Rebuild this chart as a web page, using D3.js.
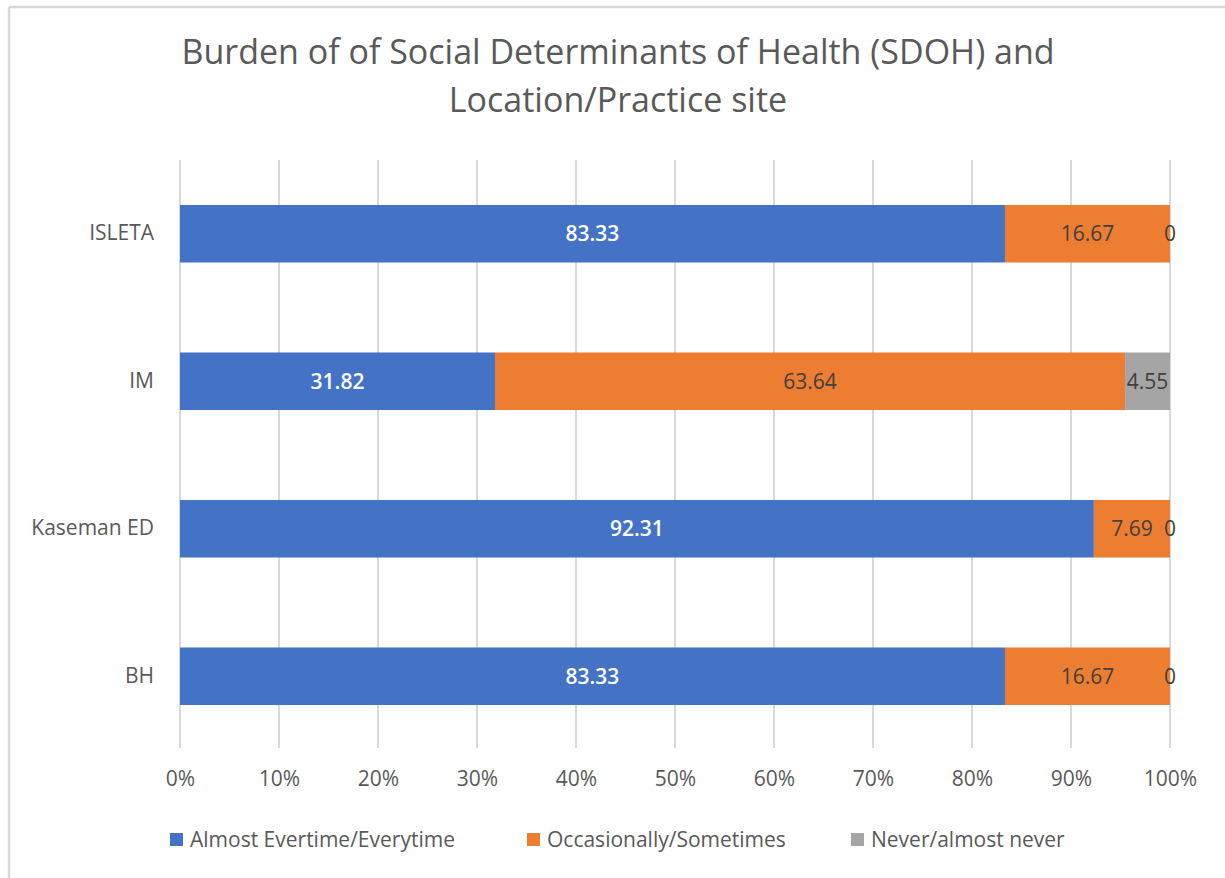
<!DOCTYPE html>
<html>
<head>
<meta charset="utf-8">
<script src="https://cdn.jsdelivr.net/npm/d3@7"></script>
<style>
  html, body { margin: 0; padding: 0; background: #fff; }
  svg text { font-family: "Open Sans", "Lato", sans-serif; }
</style>
</head>
<body>
<svg id="chart" width="1225" height="878"></svg>
<script>
const categories = ["ISLETA", "IM", "Kaseman ED", "BH"];
const seriesNames = ["Almost Evertime/Everytime", "Occasionally/Sometimes", "Never/almost never"];
const almostEverytime = [83.33, 31.82, 92.31, 83.33];
const occasionally = [16.67, 63.64, 7.69, 16.67];
const never = [0, 4.55, 0, 0];
const seriesColors = ["#4472C4", "#ED7D31", "#A5A5A5"];
const labelColors = ["#ffffff", "#404040", "#404040"];
const tickValues = [0, 10, 20, 30, 40, 50, 60, 70, 80, 90, 100];
const titleLines = ["Burden of of Social Determinants of Health (SDOH) and", "Location/Practice site"];

const svg = d3.select("#chart");

// chart border (top and left visible)
svg.append("line").attr("x1", 9).attr("x2", 1225).attr("y1", 7).attr("y2", 7)
  .attr("stroke", "#d9d9d9").attr("stroke-width", 2.5);
svg.append("line").attr("x1", 9).attr("x2", 9).attr("y1", 7).attr("y2", 878)
  .attr("stroke", "#d9d9d9").attr("stroke-width", 2.5);

// title
svg.append("g").selectAll("text").data(titleLines).join("text")
  .attr("x", 618).attr("y", (d, i) => 64 + i * 48)
  .attr("text-anchor", "middle").attr("fill", "#595959")
  .attr("font-size", 34).text(d => d);

const margin = { left: 180, right: 1170, top: 160, bottom: 750 };
const x = d3.scaleLinear().domain([0, 100]).range([margin.left, margin.right]);
const y = d3.scaleBand().domain(categories).range([margin.top, margin.bottom]).paddingInner(0.61).paddingOuter(0.305);

// gridlines
svg.append("g").selectAll("line").data(tickValues).join("line")
  .attr("x1", d => x(d)).attr("x2", d => x(d))
  .attr("y1", margin.top).attr("y2", margin.bottom - 2)
  .attr("stroke", "#d9d9d9").attr("stroke-width", 2);

// stacked data
const table = categories.map((c, i) => ({ cat: c, s0: almostEverytime[i], s1: occasionally[i], s2: never[i] }));
const stack = d3.stack().keys(["s0", "s1", "s2"]);
const stacked = stack(table);

const gBars = svg.append("g");
stacked.forEach((layer, si) => {
  gBars.append("g").selectAll("rect").data(layer).join("rect")
    .attr("x", d => x(d[0]))
    .attr("y", d => y(d.data.cat))
    .attr("width", d => x(d[1]) - x(d[0]))
    .attr("height", y.bandwidth())
    .attr("fill", seriesColors[si]);
});

// data labels
stacked.forEach((layer, si) => {
  svg.append("g").selectAll("text").data(layer).join("text")
    .attr("x", d => (x(d[0]) + x(d[1])) / 2)
    .attr("y", d => y(d.data.cat) + y.bandwidth() / 2)
    .attr("dy", "0.35em")
    .attr("text-anchor", "middle")
    .attr("font-size", 21)
    .attr("font-weight", si === 0 ? 600 : 400)
    .attr("fill", labelColors[si])
    .text(d => d.data[layer.key]);
});

// category axis labels
const yAxis = d3.axisLeft(y).tickSize(0).tickPadding(0);
const gy = svg.append("g").attr("transform", `translate(${margin.left - 26},0)`).call(yAxis);
gy.select(".domain").remove();
gy.selectAll("text").attr("font-size", 21).attr("fill", "#595959").attr("font-family", "Open Sans, sans-serif");

// x axis tick labels
const xAxis = d3.axisBottom(x).tickValues(tickValues).tickFormat(d => d + "%").tickSize(0).tickPadding(0);
const gx = svg.append("g").attr("transform", `translate(0,${771})`).call(xAxis);
gx.select(".domain").remove();
gx.selectAll("text").attr("font-size", 21).attr("fill", "#595959").attr("font-family", "Open Sans, sans-serif");

// legend
const legendX = [170, 527, 851];
const lg = svg.append("g").selectAll("g").data(seriesNames).join("g")
  .attr("transform", (d, i) => `translate(${legendX[i]},840)`);
lg.append("rect").attr("x", 0).attr("y", -7).attr("width", 13).attr("height", 13)
  .attr("fill", (d, i) => seriesColors[i]);
lg.append("text").attr("x", 20).attr("y", 0).attr("dy", "0.35em")
  .attr("font-size", 21).attr("fill", "#595959").text(d => d);
</script>
</body>
</html>
